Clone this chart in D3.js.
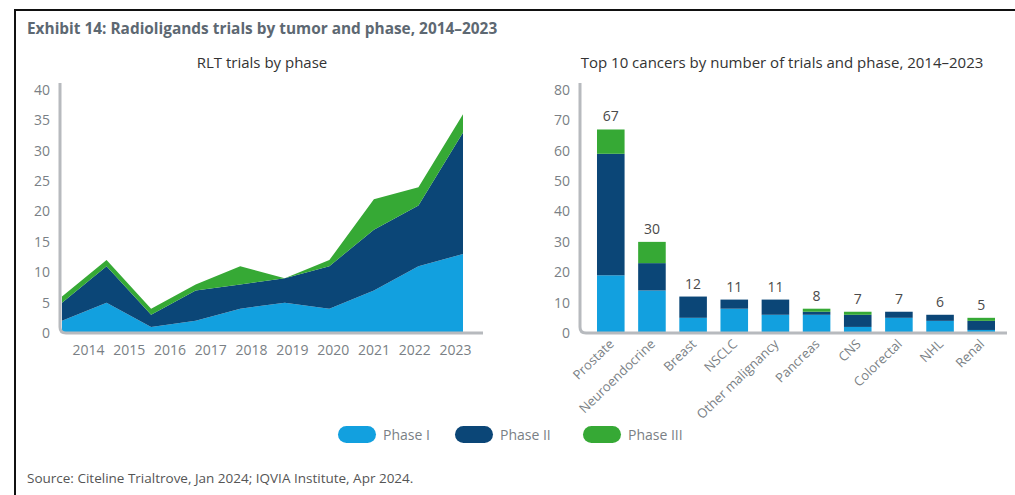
<!DOCTYPE html>
<html>
<head>
<meta charset="utf-8">
<script src="https://cdn.jsdelivr.net/npm/d3@7"></script>
<style>
  body { margin: 0; background: #fff; }
  svg { display: block; font-family: "Open Sans", "Noto Sans", sans-serif; }
</style>
</head>
<body>
<svg id="chart" width="1015" height="495"></svg>
<script>
// data
const years = ['2014', '2015', '2016', '2017', '2018', '2019', '2020', '2021', '2022', '2023']
const phase1_by_year = [2, 5, 1, 2, 4, 5, 4, 7, 11, 13]
const phase2_by_year = [3, 6, 2, 5, 4, 4, 7, 10, 10, 20]
const phase3_by_year = [1, 1, 1, 1, 3, 0, 1, 5, 3, 3]

const cancers = ['Prostate', 'Neuroendocrine', 'Breast', 'NSCLC', 'Other malignancy',
                 'Pancreas', 'CNS', 'Colorectal', 'NHL', 'Renal']
const phase1_by_cancer = [19, 14, 5, 8, 6, 6, 2, 5, 4, 1]
const phase2_by_cancer = [40, 9, 7, 3, 5, 1, 4, 2, 2, 3]
const phase3_by_cancer = [8, 7, 0, 0, 0, 1, 1, 0, 0, 1]
const cancer_totals = [67, 30, 12, 11, 11, 8, 7, 7, 6, 5]

const phases = ['Phase I', 'Phase II', 'Phase III']
const colors = ['#12a0df', '#0b4677', '#36a935']

const svg = d3.select('#chart')
const axisGrey = '#b7babe'
const tickGrey = '#7a7f85'

// frame
svg.append('line').attr('x1', 15).attr('x2', 1015).attr('y1', 10).attr('y2', 10)
   .attr('stroke', '#111').attr('stroke-width', 2)
svg.append('line').attr('x1', 15).attr('x2', 15).attr('y1', 9).attr('y2', 495)
   .attr('stroke', '#111').attr('stroke-width', 2)

svg.append('text').attr('x', 27).attr('y', 34)
   .attr('font-size', 15.4).attr('font-weight', 700).attr('fill', '#5d6872')
   .text('Exhibit 14: Radioligands trials by tumor and phase, 2014–2023')

// shared y range
const yTop = 90, yBot = 333

function axis_frame(x0, x1) {
    // grey L shaped axis with rounded corner
    const r = 6
    svg.append('path')
       .attr('d', `M${x0},${yTop - 7} V${yBot - r} Q${x0},${yBot} ${x0 + r},${yBot} H${x1}`)
       .attr('fill', 'none').attr('stroke', axisGrey).attr('stroke-width', 3)
}

function y_axis(y, x) {
    const g = svg.append('g').attr('transform', `translate(${x},0)`)
       .call(d3.axisLeft(y).ticks(8).tickSize(0).tickPadding(0))
    g.select('.domain').remove()
    g.selectAll('text').attr('font-size', 14).attr('fill', tickGrey)
       .attr('font-family', '"Open Sans", sans-serif')
}

// ---------- left: area chart ----------
svg.append('text').attr('x', 262).attr('y', 68).attr('text-anchor', 'middle')
   .attr('font-size', 15).attr('font-weight', 500).attr('fill', '#333')
   .text('RLT trials by phase')

const yearRows = years.map((yr, i) => ({year: yr, p1: phase1_by_year[i], p2: phase2_by_year[i], p3: phase3_by_year[i]}))
const yearStack = d3.stack().keys(['p1', 'p2', 'p3'])(yearRows)

const xArea = d3.scalePoint(years, [62, 463])
const xYearLabel = d3.scalePoint(years, [88, 455])
const yLeft = d3.scaleLinear([0, 40], [yBot, yTop])

const area = d3.area()
    .x(d => xArea(d.data.year))
    .y0(d => yLeft(d[0]))
    .y1(d => yLeft(d[1]))

svg.append('g').selectAll('path').data(yearStack).join('path')
   .attr('d', area)
   .attr('fill', (d, i) => colors[i])

axis_frame(60, 483)
y_axis(yLeft, 50)

const xg = svg.append('g').attr('transform', `translate(0,${yBot + 12})`)
   .call(d3.axisBottom(xYearLabel).tickSize(0).tickPadding(0))
xg.select('.domain').remove()
xg.selectAll('text').attr('font-size', 14).attr('fill', tickGrey)
   .attr('font-family', '"Open Sans", sans-serif')

// ---------- right: stacked bars ----------
svg.append('text').attr('x', 782).attr('y', 68).attr('text-anchor', 'middle')
   .attr('font-size', 15).attr('font-weight', 500).attr('fill', '#333')
   .text('Top 10 cancers by number of trials and phase, 2014–2023')

const cancerRows = cancers.map((c, i) => ({cancer: c, p1: phase1_by_cancer[i], p2: phase2_by_cancer[i], p3: phase3_by_cancer[i]}))
const cancerStack = d3.stack().keys(['p1', 'p2', 'p3'])(cancerRows)

const xBar = d3.scaleBand(cancers, [590, 1002]).paddingInner(0.33).paddingOuter(0.17)
const yRight = d3.scaleLinear([0, 80], [yBot, yTop])

svg.append('g').selectAll('g').data(cancerStack).join('g')
   .attr('fill', (d, i) => colors[i])
   .selectAll('rect').data(d => d).join('rect')
     .attr('x', d => xBar(d.data.cancer))
     .attr('width', xBar.bandwidth())
     .attr('y', d => yRight(d[1]))
     .attr('height', d => yRight(d[0]) - yRight(d[1]))

svg.append('g').selectAll('text').data(cancers).join('text')
   .attr('x', c => xBar(c) + xBar.bandwidth() / 2)
   .attr('y', (c, i) => yRight(cancer_totals[i]) - 8)
   .attr('text-anchor', 'middle').attr('font-size', 14).attr('fill', '#4a4a4a')
   .text((c, i) => cancer_totals[i])

axis_frame(580, 1007)
y_axis(yRight, 570)

svg.append('g').selectAll('text').data(cancers).join('text')
   .attr('transform', c => `translate(${xBar(c) + xBar.bandwidth() / 2 + 4},${yBot + 12}) rotate(-44)`)
   .attr('text-anchor', 'end').attr('font-size', 13).attr('fill', tickGrey)
   .text(c => c)

// ---------- legend ----------
const legendX = [338, 455, 583]
const lg = svg.append('g').selectAll('g').data(phases).join('g')
   .attr('transform', (d, i) => `translate(${legendX[i]},426)`)
lg.append('rect').attr('width', 38).attr('height', 17).attr('rx', 8.5)
  .attr('fill', (d, i) => colors[i])
lg.append('text').attr('x', 45).attr('y', 13.5).attr('font-size', 14).attr('fill', tickGrey)
  .text(d => d)

svg.append('text').attr('x', 27).attr('y', 483)
   .attr('font-size', 13.5).attr('fill', '#555')
   .text('Source: Citeline Trialtrove, Jan 2024; IQVIA Institute, Apr 2024.')
</script>
</body>
</html>
